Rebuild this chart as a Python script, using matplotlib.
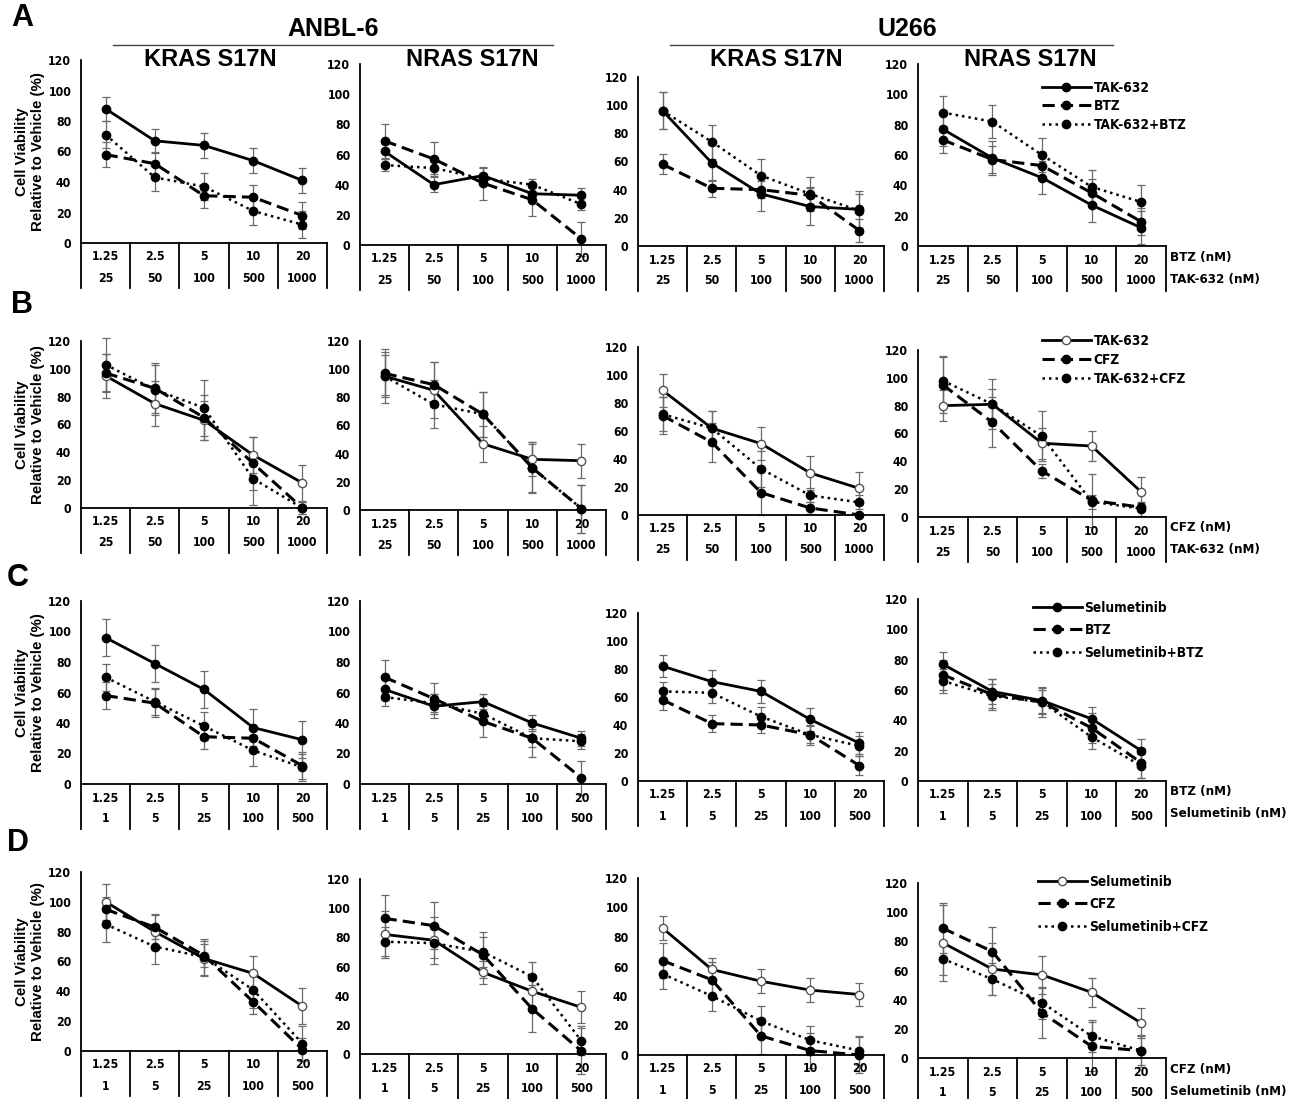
import os
import matplotlib
matplotlib.use("Agg")
import matplotlib.pyplot as plt
from matplotlib.lines import Line2D
from matplotlib import font_manager
from matplotlib.font_manager import FontProperties

# ---- data ----
x = [1, 2, 3, 4, 5]
conc_top_AB = ["1.25", "2.5", "5", "10", "20"]
conc_bot_AB = ["25", "50", "100", "500", "1000"]
conc_top_CD = ["1.25", "2.5", "5", "10", "20"]
conc_bot_CD = ["1", "5", "25", "100", "500"]

# panels in each row: ANBL-6 KRAS, ANBL-6 NRAS, U266 KRAS, U266 NRAS
# row A: TAK-632 / BTZ / TAK-632+BTZ
A_solid = [[88, 67, 64, 54, 41], [62, 40, 46, 34, 33], [96, 59, 37, 28, 26], [77, 58, 45, 27, 12]]
A_dash = [[58, 52, 31, 30, 18], [69, 57, 41, 30, 4], [58, 41, 40, 36, 11], [70, 57, 53, 35, 16]]
A_dot = [[71, 43, 37, 21, 12], [53, 51, 44, 40, 27], [96, 74, 50, 37, 25], [88, 82, 60, 39, 29]]
A_solid_err = [[8, 8, 8, 8, 8], [5, 5, 5, 4, 5], [13, 13, 12, 13, 13], [11, 11, 11, 11, 11]]
A_dash_err = [[8, 8, 8, 8, 9], [11, 11, 11, 11, 11], [7, 6, 6, 6, 8], [9, 9, 9, 9, 9]]
A_dot_err = [[9, 9, 9, 9, 9], [4, 4, 4, 4, 4], [13, 12, 12, 12, 12], [11, 11, 11, 11, 11]]

# row B: TAK-632 / CFZ / TAK-632+CFZ
B_solid = [[95, 75, 63, 38, 18], [95, 85, 47, 36, 35], [89, 62, 51, 30, 19], [80, 81, 53, 51, 18]]
B_dash = [[97, 86, 65, 32, 0], [97, 89, 68, 30, 1], [71, 52, 16, 5, 0], [95, 68, 33, 12, 7]]
B_dot = [[103, 85, 72, 21, 0], [95, 75, 68, 30, 1], [72, 62, 33, 14, 9], [98, 81, 58, 11, 6]]
B_solid_err = [[16, 16, 14, 13, 13], [15, 20, 13, 12, 12], [12, 12, 12, 12, 12], [11, 11, 11, 11, 11]]
B_dash_err = [[14, 18, 16, 19, 4], [15, 16, 16, 17, 17], [13, 14, 16, 4, 1], [20, 18, 5, 19, 3]]
B_dot_err = [[19, 18, 20, 19, 4], [19, 17, 16, 18, 17], [12, 12, 13, 5, 5], [18, 18, 18, 5, 5]]

# row C: Selumetinib / BTZ / Selumetinib+BTZ
C_solid = [[96, 79, 62, 37, 29], [62, 51, 54, 40, 30], [82, 71, 64, 44, 27], [77, 59, 53, 41, 20]]
C_dash = [[58, 53, 31, 30, 12], [70, 56, 41, 30, 4], [58, 41, 40, 33, 11], [70, 57, 52, 35, 12]]
C_dot = [[70, 54, 38, 22, 11], [57, 53, 46, 30, 28], [64, 63, 46, 33, 25], [66, 56, 52, 29, 10]]
C_solid_err = [[12, 12, 12, 12, 12], [7, 8, 5, 5, 5], [8, 8, 8, 8, 8], [8, 8, 8, 8, 8]]
C_dash_err = [[9, 9, 8, 9, 9], [11, 10, 10, 12, 11], [7, 6, 6, 6, 7], [10, 10, 10, 10, 10]]
C_dot_err = [[9, 9, 9, 10, 9], [6, 6, 5, 6, 5], [7, 7, 7, 7, 7], [8, 8, 8, 8, 8]]

# row D: Selumetinib / CFZ / Selumetinib+CFZ
D_solid = [[100, 80, 62, 52, 30], [82, 78, 56, 43, 32], [86, 58, 50, 44, 41], [79, 61, 57, 45, 24]]
D_dash = [[95, 83, 64, 33, 1], [93, 88, 68, 31, 2], [64, 51, 13, 3, 0], [89, 73, 31, 8, 5]]
D_dot = [[85, 70, 63, 41, 5], [77, 76, 70, 53, 9], [55, 40, 23, 10, 3], [68, 54, 38, 15, 5]]
D_solid_err = [[12, 12, 12, 12, 12], [16, 16, 8, 11, 11], [8, 8, 8, 8, 8], [26, 18, 13, 10, 10]]
D_dash_err = [[8, 8, 8, 8, 8], [16, 16, 16, 16, 16], [12, 12, 12, 12, 12], [17, 17, 17, 17, 10]]
D_dot_err = [[12, 12, 12, 12, 12], [10, 10, 10, 10, 10], [10, 10, 10, 10, 10], [11, 11, 11, 11, 11]]

legend_A = ["TAK-632", "BTZ", "TAK-632+BTZ"]
legend_B = ["TAK-632", "CFZ", "TAK-632+CFZ"]
legend_C = ["Selumetinib", "BTZ", "Selumetinib+BTZ"]
legend_D = ["Selumetinib", "CFZ", "Selumetinib+CFZ"]
side_A = ["BTZ (nM)", "TAK-632 (nM)"]
side_B = ["CFZ (nM)", "TAK-632 (nM)"]
side_C = ["BTZ (nM)", "Selumetinib (nM)"]
side_D = ["CFZ (nM)", "Selumetinib (nM)"]

# ---- fonts: look for a condensed bold face, else Arial-like bold ----
files = {os.path.basename(f.fname): f.fname for f in font_manager.fontManager.ttflist}
narrow_file, k = None, 1.0
for fn, scale in [("LiberationSansNarrow-Bold.ttf", 1.2), ("DejaVuSansCondensed-Bold.ttf", 1.0),
                  ("LiberationSans-Bold.ttf", 1.0)]:
    if fn in files:
        narrow_file, k = files[fn], scale
        break


def nfont(size):
    if narrow_file:
        return FontProperties(fname=narrow_file, size=size * k)
    return FontProperties(family="DejaVu Sans", weight="bold", size=size * 0.9)


arial = "Liberation Sans"

W, H = 1301, 1099
fig = plt.figure(figsize=(W / 100, H / 100), dpi=100)

# pixel layout: columns (left, right), per-row tops (value 120) and bottoms (value 0)
cols = [(81, 327), (360, 606), (638, 884), (918, 1166)]
rows = [
    dict(tops=[60, 64, 77, 64], bots=[243, 245, 246, 246]),
    dict(tops=[341, 341, 347, 350], bots=[508, 510, 515, 517]),
    dict(tops=[601, 601, 613, 599], bots=[784, 784, 781, 781]),
    dict(tops=[872, 879, 878, 883], bots=[1051, 1054, 1055, 1058]),
]
row_data = [
    (A_solid, A_dash, A_dot, A_solid_err, A_dash_err, A_dot_err, legend_A, side_A, conc_top_AB, conc_bot_AB, False),
    (B_solid, B_dash, B_dot, B_solid_err, B_dash_err, B_dot_err, legend_B, side_B, conc_top_AB, conc_bot_AB, True),
    (C_solid, C_dash, C_dot, C_solid_err, C_dash_err, C_dot_err, legend_C, side_C, conc_top_CD, conc_bot_CD, False),
    (D_solid, D_dash, D_dot, D_solid_err, D_dash_err, D_dot_err, legend_D, side_D, conc_top_CD, conc_bot_CD, True),
]
# legend upper-left corner (px) and row pitch (px)
legend_pos = [(1035, 74, 18), (1035, 327, 18.5), (1026, 594, 22), (1031, 868, 22)]
letters = [("A", 22, 18), ("B", 22, 305), ("C", 18, 578), ("D", 18, 843)]

table_h = 45
leg_size = 9.8
leg_px = leg_size * k / 0.72

for r, (solid, dash, dot, se, de, oe, leg, side, ctop, cbot, open_marker) in enumerate(row_data):
    for c in range(4):
        left, right = cols[c]
        top, bot = rows[r]["tops"][c], rows[r]["bots"][c]
        hpx = bot - top
        ax = fig.add_axes([left / W, 1 - bot / H, (right - left) / W, hpx / H])
        ax.set_xlim(0.5, 5.5)
        ax.set_ylim(0, 120)
        ax.set_yticks(range(0, 121, 20))
        ax.set_xticks([])
        for s in ["top", "right", "left"]:
            ax.spines[s].set_visible(False)
        ax.spines["bottom"].set_linewidth(1.3)
        ax.tick_params(axis="y", length=0, pad=7)
        for lab in ax.get_yticklabels():
            lab.set_fontproperties(nfont(8.8))

        frac = table_h / hpx
        ax.axvline(0.5, ymin=-frac, ymax=1, color="black", lw=1.3, clip_on=False)
        for xs in [1.5, 2.5, 3.5, 4.5, 5.5]:
            ax.axvline(xs, ymin=-frac, ymax=0, color="black", lw=1.3, clip_on=False)
        tr = ax.get_xaxis_transform()
        for i in range(5):
            ax.text(x[i], -14 / hpx, ctop[i], transform=tr, ha="center", va="center",
                    fontproperties=nfont(8.8))
            ax.text(x[i], -35 / hpx, cbot[i], transform=tr, ha="center", va="center",
                    fontproperties=nfont(8.8))

        for vals, err in [(solid[c], se[c]), (dash[c], de[c]), (dot[c], oe[c])]:
            ax.errorbar(x, vals, yerr=err, fmt="none", ecolor="#6a6a6a", elinewidth=0.9,
                        capsize=3, capthick=0.9, clip_on=False)
        mfc = "white" if open_marker else "black"
        mec = "#555555" if open_marker else "black"
        h1, = ax.plot(x, solid[c], "-", color="black", lw=2, marker="o", ms=6,
                      mfc=mfc, mec=mec, clip_on=False)
        h2, = ax.plot(x, dash[c], color="black", lw=2.2, dashes=(4, 2), marker="o", ms=6,
                      clip_on=False)
        h3, = ax.plot(x, dot[c], color="black", lw=1.8, ls=(0, (1, 1.6)), marker="o", ms=6,
                      clip_on=False)

        if c == 0:
            ax.set_ylabel("Cell Viability\nRelative to Vehicle (%)", fontfamily=arial,
                          fontweight="bold", fontsize=10.8, linespacing=1.2)
            ax.yaxis.set_label_coords(-0.145, 0.5)
        if c == 3:
            lx, ly, pitch = legend_pos[r]
            sp = max(pitch / leg_px - 1.0, 0.0)
            ax.legend([h1, h2, h3], leg, loc="upper left",
                      bbox_to_anchor=(lx / W, 1 - ly / H), bbox_transform=fig.transFigure,
                      frameon=False, handlelength=3.6 / k, handletextpad=0.2, borderpad=0,
                      labelspacing=sp, prop=nfont(leg_size))
            fig.text(1170 / W, 1 - (bot + 11) / H, side[0], fontproperties=nfont(9.5),
                     va="center")
            fig.text(1170 / W, 1 - (bot + 33) / H, side[1], fontproperties=nfont(9.5),
                     va="center")

for lab, lx, ly in letters:
    fig.text(lx / W, 1 - ly / H, lab, fontfamily=arial, fontweight="bold", fontsize=22,
             ha="center", va="center")

# cell line headers and panel titles
fig.text(333 / W, 1 - 29 / H, "ANBL-6", fontfamily=arial, fontweight="bold", fontsize=18,
         ha="center", va="center")
fig.text(907 / W, 1 - 29 / H, "U266", fontfamily=arial, fontweight="bold", fontsize=18,
         ha="center", va="center")
fig.add_artist(Line2D([113 / W, 553 / W], [1 - 45 / H, 1 - 45 / H], color="#444444", lw=1))
fig.add_artist(Line2D([670 / W, 1113 / W], [1 - 45 / H, 1 - 45 / H], color="#444444", lw=1))
for tx, title in [(210, "KRAS S17N"), (472, "NRAS S17N"), (776, "KRAS S17N"), (1030, "NRAS S17N")]:
    fig.text(tx / W, 1 - 60 / H, title, fontfamily=arial, fontweight="bold", fontsize=17,
             ha="center", va="center")

fig.savefig("out.png", dpi=100, facecolor="white")
